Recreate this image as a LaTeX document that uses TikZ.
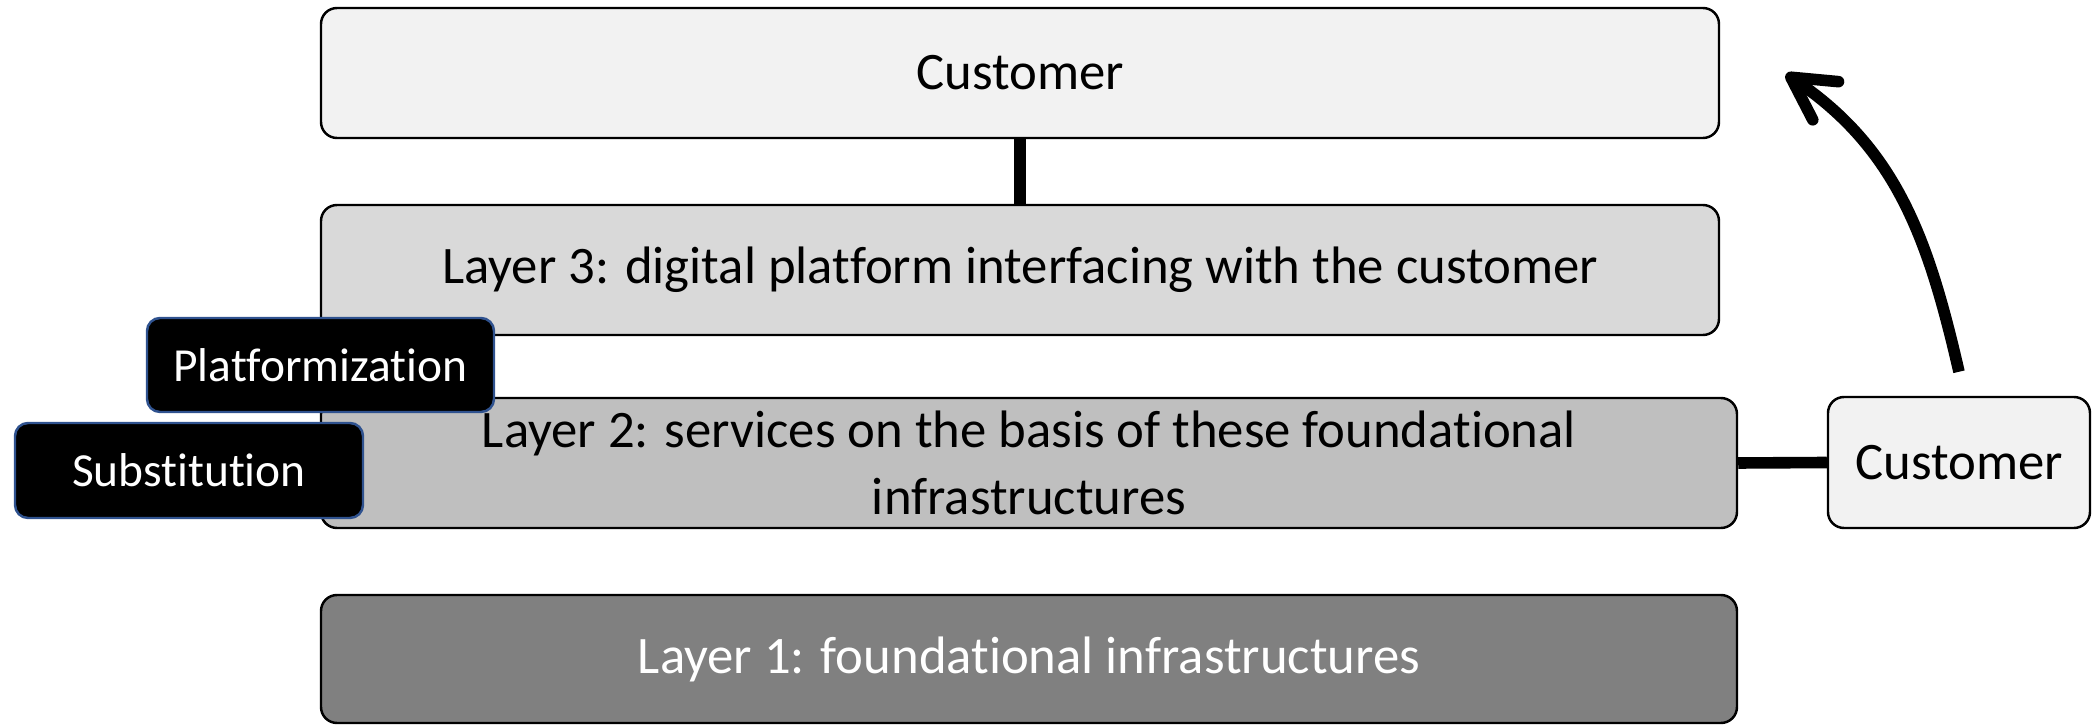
\documentclass[tikz,border=0pt]{standalone}
\usepackage{fontspec}
\setmainfont{Carlito}[Ligatures={NoCommon,NoContextual}]
\usepackage{tikz}
\usetikzlibrary{arrows.meta,positioning}

\definecolor{pale}{HTML}{F2F2F2}
\definecolor{lightgr}{HTML}{D9D9D9}
\definecolor{midgr}{HTML}{BFBFBF}
\definecolor{darkgr}{HTML}{808080}
\definecolor{tagedge}{HTML}{2F528F}

\begin{document}
\begin{tikzpicture}[font=\fontsize{15}{19}\selectfont,
  layerbox/.style={draw=black, line width=0.7pt, rounded corners=0.16cm, align=center, inner sep=0pt},
  tagbox/.style={draw=tagedge, line width=0.7pt, fill=black, text=white, rounded corners=0.13cm, inner sep=0pt, font=\fontsize{13.5}{16}\selectfont},
  link/.style={line width=3.3pt}]
\useasboundingbox (0,0) rectangle (21,-7.25);
\node[layerbox, fill=pale, minimum width=13.98cm, minimum height=1.30cm] (cust) at (10.20,-0.73) {Customer};
\node[layerbox, fill=lightgr, minimum width=13.98cm, minimum height=1.30cm] (layer3) at (10.20,-2.70) {Layer 3: digital platform interfacing with the customer};
\node[layerbox, fill=midgr, minimum width=14.16cm, minimum height=1.30cm] (layer2) at (10.29,-4.63) {Layer 2: services on the basis of these foundational\\infrastructures};
\node[layerbox, fill=darkgr, text=white, minimum width=14.16cm, minimum height=1.28cm] (layer1) at (10.29,-6.59) {Layer 1: foundational infrastructures};
\node[tagbox, minimum width=3.47cm, minimum height=0.94cm] (platf) at (3.205,-3.65) {Platformization};
\node[tagbox, minimum width=3.48cm, minimum height=0.95cm] (subst) at (1.89,-4.705) {Substitution};
\node[layerbox, fill=pale, minimum width=2.62cm, minimum height=1.31cm] (custr) at (19.59,-4.625) {Customer};

\draw[link] (cust) -- (layer3);
\draw[link] (layer2.east) -- (custr.west);
\coordinate (tip) at (17.86,-0.74);
\draw[link, -{Straight Barb[length=0.42cm, width=0.46cm, round]}] ([yshift=0.24cm]custr.north) to[out=103, in=-34] (tip);
\end{tikzpicture}
\end{document}
